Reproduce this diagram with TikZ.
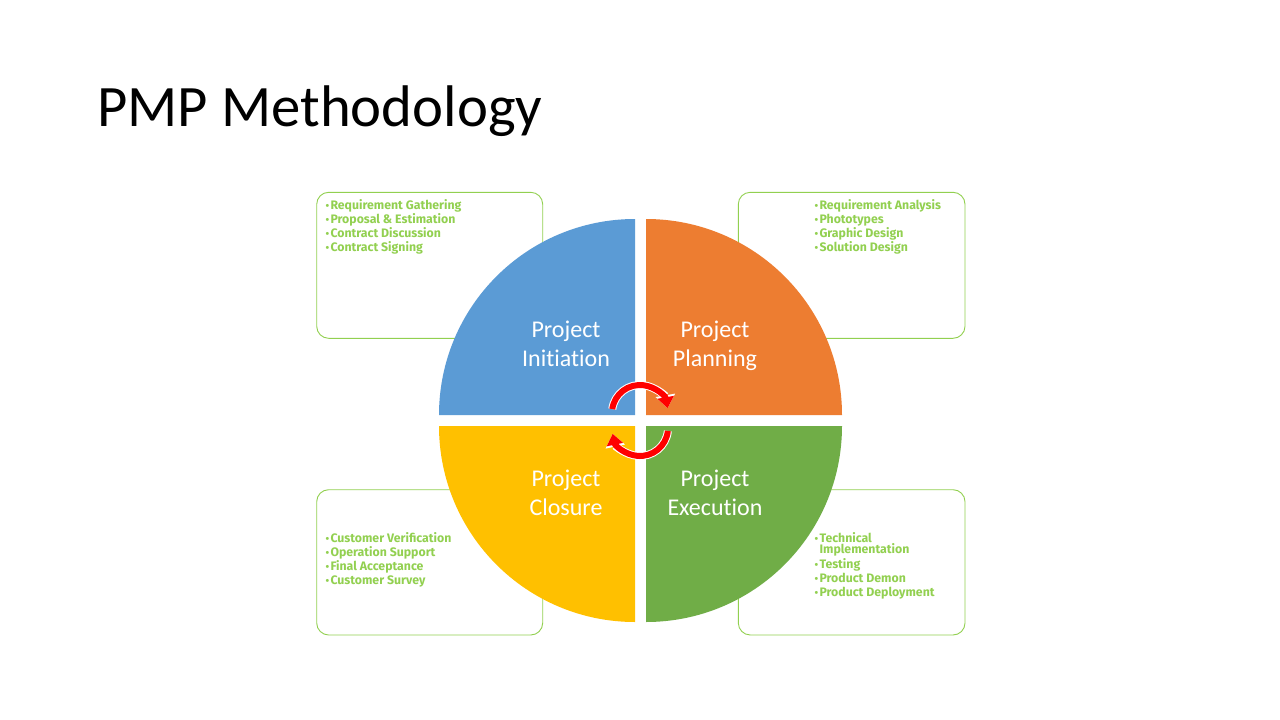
\documentclass[tikz,border=0pt]{standalone}
\usepackage{fontspec}
\setmainfont{Carlito}[Ligatures=NoCommon]
\newfontfamily\listfont{Fira Sans}
\usetikzlibrary{arrows.meta}
\definecolor{qblue}{HTML}{5B9BD5}
\definecolor{qorange}{HTML}{ED7D31}
\definecolor{qyellow}{HTML}{FFC000}
\definecolor{qgreen}{HTML}{70AD47}
\definecolor{listgreen}{HTML}{92D050}
\definecolor{cyclered}{HTML}{FF0000}
\tikzset{
  infobox/.style={draw=listgreen, line width=0.9pt, fill=white, rounded corners=12pt},
  listtext/.style={anchor=base west, inner sep=0pt, text=listgreen,
    font=\listfont\bfseries\fontsize{12.3}{14.3}\selectfont},
  phase/.style={text=white, align=center, inner sep=0pt, anchor=base,
    font=\fontsize{24}{29}\selectfont},
  cyclewhite/.style={draw=white, line width=8pt,
    -{Triangle[width=19pt,length=13pt]}},
  cyclearrow/.style={draw=cyclered, line width=6pt,
    -{Triangle[width=16pt,length=11pt]}},
}
\newcommand{\bul}{{\fontsize{10.5}{8}\selectfont\textbullet}\hspace{1.2pt}}
\newcommand{\bulskip}{\hphantom{\bul}}
\newenvironment{tasklist}{\begin{tabular}[t]{@{}l@{}}}{\end{tabular}}
\begin{document}
\begin{tikzpicture}[x=1pt,y=-1pt]
  \useasboundingbox[fill=white] (0,0) rectangle (1280,720);

  % title
  \node[anchor=base west, inner sep=0pt, font=\fontsize{58.7}{60}\selectfont]
    (title) at (97,126) {PMP Methodology};

  % side boxes with the task lists
  \draw[infobox] (316.7,192.3) rectangle (542.7,338.3);
  \draw[infobox] (738.3,192.3) rectangle (965,338.3);
  \draw[infobox] (316.7,489.7) rectangle (542.7,635);
  \draw[infobox] (738.3,489.7) rectangle (965,635);

  \node[listtext] (initlist) at (325.5,209) {\begin{tasklist}\bul Requirement Gathering\\
    \bul Proposal \& Estimation\\ \bul Contract Discussion\\ \bul Contract Signing\end{tasklist}};
  \node[listtext] (planlist) at (814.5,209) {\begin{tasklist}\bul Requirement Analysis\\
    \bul Phototypes\\ \bul Graphic Design\\ \bul Solution Design\end{tasklist}};
  \node[listtext] (closelist) at (325.5,542) {\begin{tasklist}\bul Customer Verification\\
    \bul Operation Support\\ \bul Final Acceptance\\ \bul Customer Survey\end{tasklist}};
  \node[listtext] (execlist) at (814.5,542) {\begin{tasklist}\bul Technical\\[-2.6pt]
    \bulskip Implementation\\ \bul Testing\\ \bul Product Demon\\ \bul Product Deployment\end{tasklist}};

  % four quadrants of the cycle
  \fill[qblue] (635,415) -- (439,415) arc[start angle=180, end angle=270, radius=196] -- cycle;
  \fill[qorange] (646,415) -- (646,219) arc[start angle=270, end angle=360, radius=196] -- cycle;
  \fill[qgreen] (646,426) -- (842,426) arc[start angle=0, end angle=90, radius=196] -- cycle;
  \fill[qyellow] (635,426) -- (635,622) arc[start angle=90, end angle=180, radius=196] -- cycle;

  % phase labels (anchored on the baseline of their second line)
  \node[phase] (initiation) at (566,366) {Project\\Initiation};
  \node[phase] (planning) at (715,366) {Project\\Planning};
  \node[phase] (closure) at (566,515) {Project\\Closure};
  \node[phase] (execution) at (715,515) {Project\\Execution};

  % circular arrows in the middle
  \coordinate (topc) at (640,413);
  \coordinate (botc) at (640,428);
  \draw[cyclewhite] (topc) ++(188:28) arc[start angle=188, end angle=350, radius=28];
  \draw[cyclearrow] (topc) ++(188:28) arc[start angle=188, end angle=350, radius=28];
  \draw[cyclewhite] (botc) ++(6:28) arc[start angle=6, end angle=168, radius=28];
  \draw[cyclearrow] (botc) ++(6:28) arc[start angle=6, end angle=168, radius=28];
\end{tikzpicture}
\end{document}
